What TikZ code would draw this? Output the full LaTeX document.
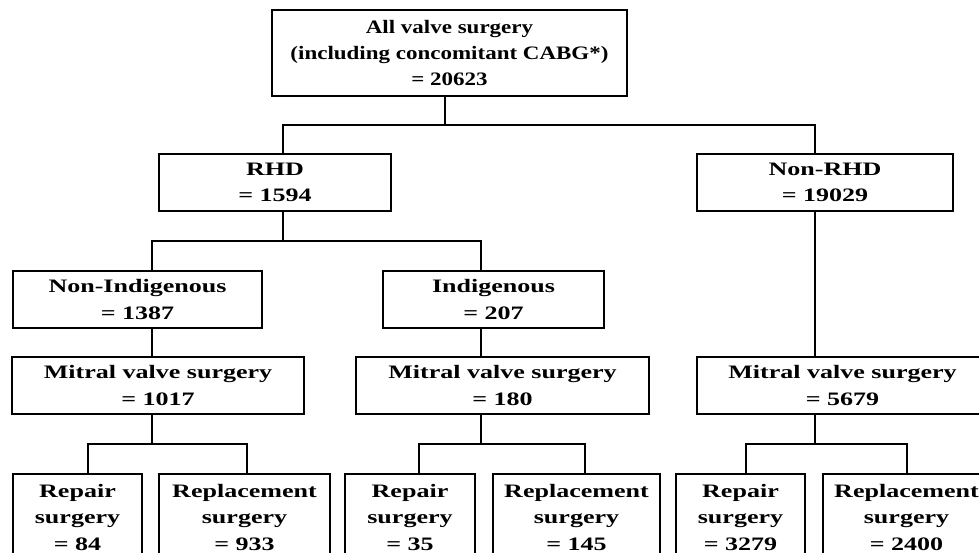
\documentclass[tikz,border=0pt]{standalone}
\usepackage{fontspec}
\setmainfont[FakeStretch=1.37]{Liberation Serif}
\newfontfamily\topfont[FakeStretch=1.21]{Liberation Serif}

\tikzset{
  box/.style={draw, rectangle, line width=1.8pt, align=center, inner sep=0pt,
    minimum height=57pt, font=\fontsize{19pt}{26.5pt}\selectfont\bfseries},
  leaf/.style={box, anchor=north, minimum height=0pt, inner ysep=10pt},
  link/.style={line width=1.8pt}
}

\begin{document}
\begin{tikzpicture}[x=1pt, y=1pt]
    \useasboundingbox (0,0) rectangle (979,-553);

    % Top level
    \node[box, minimum width=355pt, minimum height=86pt,
        font=\topfont\fontsize{19pt}{26pt}\selectfont\bfseries] (top) at (449.5,-53)
        {All valve surgery\\(including concomitant CABG*)\\= 20623};

    % RHD / Non-RHD
    \node[box, minimum width=232pt] (rhd) at (275,-182.5) {RHD\\= 1594};
    \node[box, minimum width=256pt] (nonrhd) at (825,-182.5) {Non-RHD\\= 19029};

    % Indigenous status
    \node[box, minimum width=249pt] (nonind) at (137.5,-299.5) {Non-Indigenous\\= 1387};
    \node[box, minimum width=221pt] (ind) at (493.5,-299.5) {Indigenous\\= 207};

    % Mitral valve surgery
    \node[box, minimum width=292pt] (mitA) at (158,-385.5) {Mitral valve surgery\\= 1017};
    \node[box, minimum width=293pt] (mitB) at (502.5,-385.5) {Mitral valve surgery\\= 180};
    \node[box, minimum width=291pt] (mitC) at (842.5,-385.5) {Mitral valve surgery\\= 5679};

    % Repair and replacement
    \node[leaf, minimum width=129pt] (repA) at (77.5,-473) {Repair\\surgery\\= 84};
    \node[leaf, minimum width=171pt] (replA) at (244.5,-473) {Replacement\\surgery\\= 933};
    \node[leaf, minimum width=130pt] (repB) at (410,-473) {Repair\\surgery\\= 35};
    \node[leaf, minimum width=167pt] (replB) at (576.5,-473) {Replacement\\surgery\\= 145};
    \node[leaf, minimum width=129pt] (repC) at (740.5,-473) {Repair\\surgery\\= 3279};
    \node[leaf, minimum width=167pt] (replC) at (906.5,-473) {Replacement\\surgery\\= 2400};

    % Connectors
    \draw[link] ([xshift=-4.5pt]top.south) -- ++(0,-28) coordinate (busA);
    \draw[link] ([xshift=8pt]rhd.north) |- (busA) -| ([xshift=-10pt]nonrhd.north);

    \draw[link] ([xshift=8pt]rhd.south) -- ++(0,-29) coordinate (busB);
    \draw[link] ([xshift=14.5pt]nonind.north) |- (busB) -| ([xshift=-12.5pt]ind.north);
    \draw[link] ([xshift=-10pt]nonrhd.south) -- ([xshift=-27.5pt]mitC.north);

    \draw[link] ([xshift=14.5pt]nonind.south) -- ([xshift=-6pt]mitA.north);
    \draw[link] ([xshift=-12.5pt]ind.south) -- ([xshift=-21.5pt]mitB.north);

    \draw[link] ([xshift=-6pt]mitA.south) -- ++(0,-29) coordinate (busC);
    \draw[link] ([xshift=10.5pt]repA.north) |- (busC) -| ([xshift=2.5pt]replA.north);
    \draw[link] ([xshift=-21.5pt]mitB.south) -- ++(0,-29) coordinate (busD);
    \draw[link] ([xshift=9pt]repB.north) |- (busD) -| ([xshift=8.5pt]replB.north);
    \draw[link] ([xshift=-27.5pt]mitC.south) -- ++(0,-29) coordinate (busE);
    \draw[link] ([xshift=5.5pt]repC.north) |- (busE) -| ([xshift=0.5pt]replC.north);
\end{tikzpicture}
\end{document}
